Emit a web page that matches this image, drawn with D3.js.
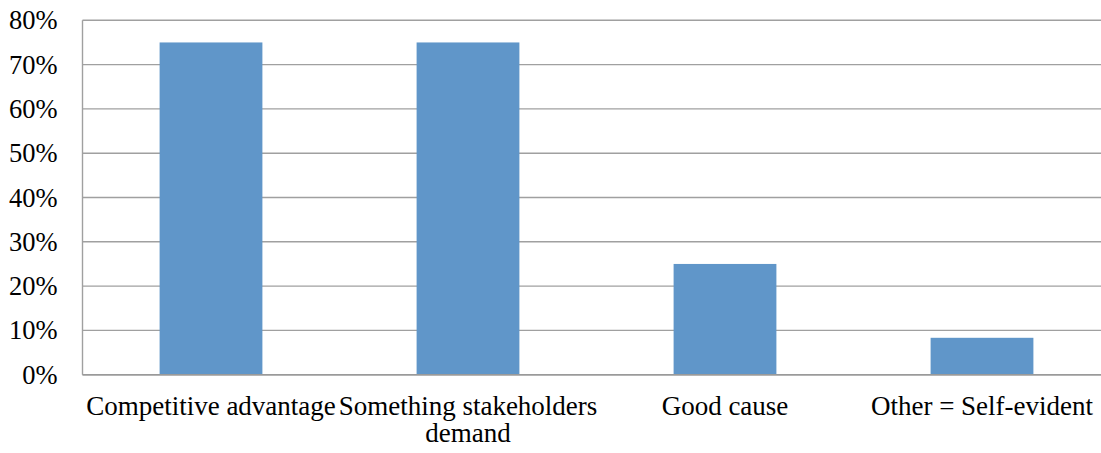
<!DOCTYPE html>
<html>
<head>
<meta charset="utf-8">
<script src="https://cdn.jsdelivr.net/npm/d3@7"></script>
</head>
<body style="margin:0; background:#fff; overflow:hidden">
<svg id="chart" width="1101" height="453"></svg>
<script>
// Reasons given for pursuing the initiative (share of respondents)
const categories = ["Competitive advantage", "Something stakeholders demand", "Good cause", "Other = Self-evident"];
const labelLines = [["Competitive advantage"], ["Something stakeholders", "demand"], ["Good cause"], ["Other = Self-evident"]];
const values = [0.75, 0.75, 0.25, 0.0833];
const yTicks = [0, 0.1, 0.2, 0.3, 0.4, 0.5, 0.6, 0.7, 0.8];

const plot = { left: 82.5, right: 1110.5, top: 20.3, bottom: 374.7 };
const svg = d3.select("#chart");

const x = d3.scaleBand()
  .domain(categories)
  .range([plot.left, plot.right])
  .paddingInner(0.6)
  .paddingOuter(0.3);

const y = d3.scaleLinear()
  .domain([0, 0.8])
  .range([plot.bottom, plot.top]);

// Horizontal gridlines (plot runs past the right edge of the canvas)
svg.append("g")
  .selectAll("line")
  .data(yTicks)
  .join("line")
  .attr("x1", plot.left)
  .attr("x2", plot.right)
  .attr("y1", d => y(d))
  .attr("y2", d => y(d))
  .attr("stroke", "#a0a0a0")
  .attr("stroke-width", 1.4);

// Left edge of the plot
svg.append("line")
  .attr("x1", plot.left).attr("x2", plot.left)
  .attr("y1", y(0.8)).attr("y2", y(0))
  .attr("stroke", "#a0a0a0").attr("stroke-width", 1.4);

// Bars
svg.append("g")
  .selectAll("rect")
  .data(values)
  .join("rect")
  .attr("x", (d, i) => x(categories[i]))
  .attr("width", x.bandwidth())
  .attr("y", d => y(d))
  .attr("height", d => y(0) - y(d))
  .attr("fill", "#6096C9");

// Baseline drawn over the bars
svg.append("line")
  .attr("x1", plot.left).attr("x2", plot.right)
  .attr("y1", y(0)).attr("y2", y(0))
  .attr("stroke", "#9a9a9a").attr("stroke-width", 1.6);

// Y axis tick labels, placed with the scale
yTicks.forEach(t => {
  svg.append("text")
    .attr("x", plot.left - 25)
    .attr("y", y(t))
    .attr("dy", "0.34em")
    .attr("text-anchor", "end")
    .attr("font-family", "Liberation Serif")
    .style("font-family", "'Liberation Serif'")
    .style("font-size", "26.5px")
    .text(d3.format(".0%")(t));
});

// Category labels, one text per line
categories.forEach((c, i) => {
  const cx = x(c) + x.bandwidth() / 2;
  labelLines[i].forEach((line, j) => {
    svg.append("text")
      .attr("x", cx)
      .attr("y", 415 + j * 27)
      .attr("text-anchor", "middle")
      .attr("font-family", "Liberation Serif")
      .style("font-family", "'Liberation Serif'")
      .style("font-size", "27px")
      .text(line);
  });
});
</script>
</body>
</html>
